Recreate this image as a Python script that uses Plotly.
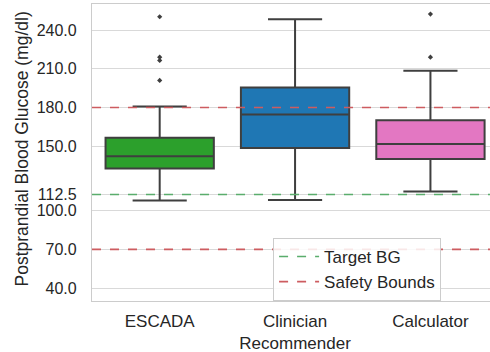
import plotly.graph_objects as go

# Box summaries per recommender (mg/dl)
categories = ["ESCADA", "Clinician<br>Recommender", "Calculator"]
q1_vals = [132.7, 148.5, 140.0]
median_vals = [142.2, 174.6, 151.6]
q3_vals = [156.5, 195.5, 170.1]
lower_whisker = [107.9, 108.2, 114.8]
upper_whisker = [180.8, 248.3, 208.4]
outliers = [[250.3, 219.0, 216.5, 201.0], [], [252.4, 219.0]]
box_colors = ["#2ca02c", "#1f77b4", "#e377c2"]

# Reference levels
target_bg = 112.5
safety_low = 70.0
safety_high = 180.0

y_ticks = [40.0, 70.0, 100.0, 112.5, 150.0, 180.0, 210.0, 240.0]

FONT = "Liberation Sans, Arial, sans-serif"
EDGE = "#3f3f3f"
RED = "#cd5c60"
GREEN = "#5aad6c"
TEXT = "#262626"

fig = go.Figure()

for i, cat in enumerate(categories):
    fig.add_trace(go.Box(
        x=[cat],
        q1=[q1_vals[i]], median=[median_vals[i]], q3=[q3_vals[i]],
        lowerfence=[lower_whisker[i]], upperfence=[upper_whisker[i]],
        fillcolor=box_colors[i],
        line=dict(color=EDGE, width=2),
        width=0.8, whiskerwidth=0.5,
        boxpoints=False, showlegend=False, hoverinfo="skip",
    ))
    if outliers[i]:
        fig.add_trace(go.Scatter(
            x=[cat] * len(outliers[i]), y=outliers[i], mode="markers",
            marker=dict(symbol="diamond", size=4, color=EDGE),
            showlegend=False, hoverinfo="skip",
        ))

# Horizontal reference lines spanning the plot
for yv, col in [(target_bg, GREEN), (safety_low, RED), (safety_high, RED)]:
    fig.add_shape(type="line", xref="paper", x0=0, x1=1, yref="y", y0=yv, y1=yv,
                  line=dict(color=col, width=1.6, dash="dash"), layer="above")

# Legend entries for the reference lines
fig.add_trace(go.Scatter(x=[None], y=[None], mode="lines", name="Target BG",
                         line=dict(color=GREEN, width=1.6, dash="dash")))
fig.add_trace(go.Scatter(x=[None], y=[None], mode="lines", name="Safety Bounds",
                         line=dict(color=RED, width=1.6, dash="dash")))

fig.update_layout(
    width=490, height=352,
    margin=dict(l=92, r=0, t=4, b=51),
    plot_bgcolor="white", paper_bgcolor="white",
    font=dict(family=FONT, size=17, color=TEXT),
    boxmode="overlay",
    showlegend=True,
    legend=dict(x=0.455, y=0.0, xanchor="left", yanchor="bottom",
                bgcolor="rgba(255,255,255,0.85)", bordercolor="#cccccc", borderwidth=1,
                font=dict(size=17, family=FONT, color=TEXT),
                itemwidth=40, tracegroupgap=0),
    xaxis=dict(
        type="category", categoryorder="array", categoryarray=categories,
        range=[-0.5, 2.44], showgrid=False, zeroline=False,
        showline=True, linecolor="#cccccc", linewidth=1.2, mirror=True,
        ticks="", ticklabelstandoff=4,
        tickfont=dict(size=17, family=FONT, color=TEXT),
    ),
    yaxis=dict(
        range=[30, 260.2], tickvals=y_ticks, ticktext=[f"{v:.1f}" for v in y_ticks],
        showgrid=True, gridcolor="#d9d9d9", gridwidth=1.2, zeroline=False,
        showline=True, linecolor="#cccccc", linewidth=1.2,
        ticks="", ticklabelstandoff=11,
        tickfont=dict(size=16, family=FONT, color=TEXT),
    ),
    annotations=[dict(
        text="Postprandial Blood Glucose (mg/dl)", textangle=-90,
        xref="paper", yref="paper", x=-70 / 398, y=0.51,
        xanchor="center", yanchor="middle", showarrow=False,
        font=dict(size=17.5, family=FONT, color=TEXT),
    )],
)

fig.write_html("out.html")
